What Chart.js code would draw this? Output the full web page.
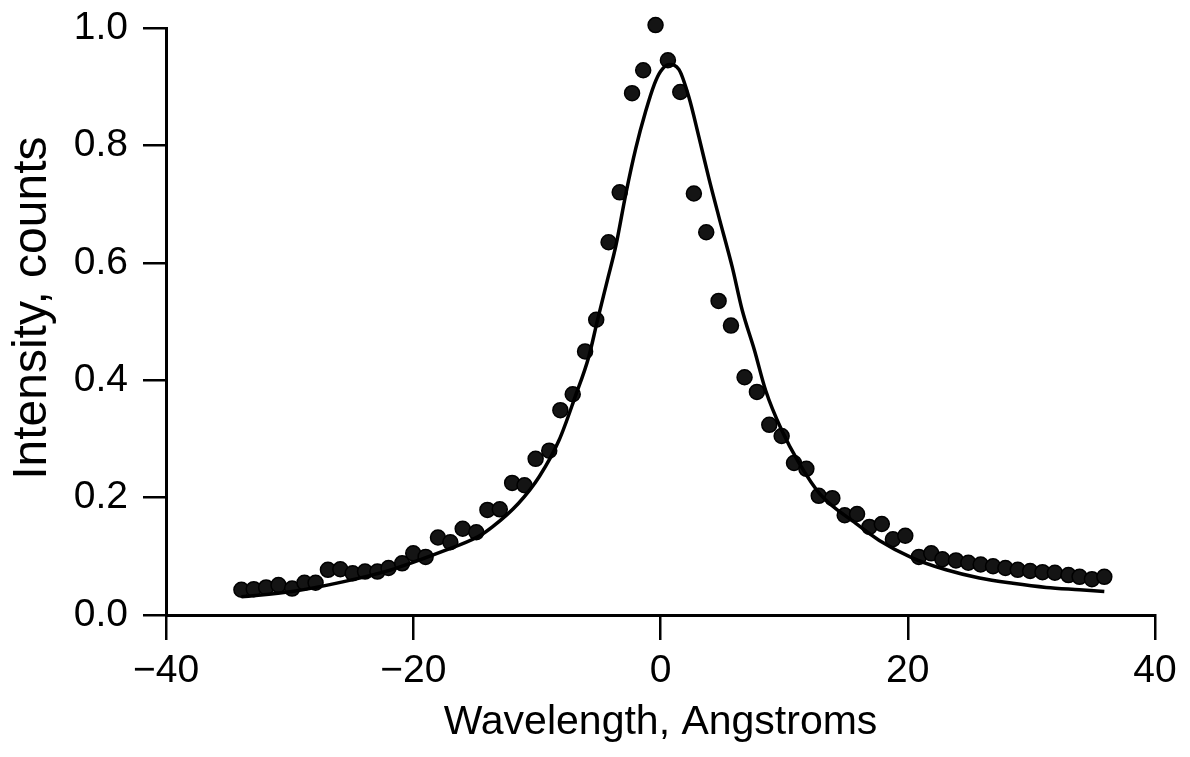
<!DOCTYPE html>
<html>
<head>
<meta charset="utf-8">
<title>Intensity vs Wavelength</title>
<script src="https://cdn.jsdelivr.net/npm/chart.js@4.4.1/dist/chart.umd.min.js"></script>
<style>
    html, body { margin: 0; padding: 0; background: #fff; }
    #wrap { width: 1190px; height: 757px; }
</style>
</head>
<body>
<div id="wrap"><canvas id="spectrum-chart" width="1190" height="757"></canvas></div>
<script>
// Measured points (wavelength in Angstroms, intensity in counts)
const wavelengths = [
    -33.9, -32.9, -31.9, -30.9, -29.8, -28.8, -27.9, -26.9, -25.9, -24.9, -23.9, -22.9,
    -22.0, -20.9, -20.0, -19.0, -18.0, -17.0, -16.0, -14.9, -14.0, -13.0, -12.0, -11.0,
    -10.1, -9.0, -8.1, -7.1, -6.1, -5.2, -4.2, -3.3, -2.3, -1.4, -0.4, 0.6, 1.6, 2.7,
    3.7, 4.7, 5.7, 6.8, 7.8, 8.8, 9.8, 10.8, 11.8, 12.8, 13.9, 14.9, 15.9, 16.9, 17.9,
    18.8, 19.8, 20.9, 21.9, 22.8, 23.9, 24.9, 25.9, 26.9, 27.9, 28.9, 29.9, 30.9, 31.9,
    33.0, 33.9, 34.9, 35.9
];
const intensities = [
    0.043, 0.044, 0.047, 0.051, 0.045, 0.055, 0.055, 0.077, 0.078, 0.071, 0.074, 0.074,
    0.080, 0.088, 0.105, 0.099, 0.132, 0.124, 0.147, 0.141, 0.179, 0.180, 0.225, 0.221,
    0.266, 0.280, 0.349, 0.376, 0.449, 0.503, 0.635, 0.720, 0.889, 0.928, 1.005, 0.945, 0.891, 0.718,
    0.652, 0.535, 0.493, 0.405, 0.380, 0.324, 0.305, 0.259, 0.249, 0.203, 0.199, 0.170, 0.172, 0.150, 0.155,
    0.129, 0.135, 0.099, 0.105, 0.095, 0.093, 0.089, 0.086, 0.083, 0.080, 0.077, 0.075, 0.073, 0.072,
    0.068, 0.065, 0.061, 0.065
];

// Fitted curve
const fitWavelengths = [
    -33.9, -29.8, -25.8, -21.8, -17.8, -14.7, -13.6, -11.5, -9.8, -8.2, -6.9, -5.8, -5.1, -4.3,
    -3.6, -2.8, -2.0, -1.2, -0.5, 0.0, 0.7, 1.5, 2.3, 3.1, 3.9, 4.7, 5.8, 6.6, 7.6, 8.5,
    9.8, 11.2, 12.9, 15.8, 17.7, 20.4, 23.1, 25.8, 28.5, 31.2, 33.9, 35.9
];
const fitIntensities = [
    0.031, 0.040, 0.056, 0.077, 0.107, 0.134, 0.150, 0.190, 0.236, 0.298, 0.372, 0.440, 0.502, 0.570,
    0.630, 0.718, 0.795, 0.858, 0.904, 0.926, 0.938, 0.929, 0.882, 0.815, 0.745, 0.680, 0.593, 0.520, 0.451, 0.383,
    0.315, 0.259, 0.206, 0.156, 0.127, 0.097, 0.077, 0.063, 0.054, 0.047, 0.043, 0.040
];

// Tick values
const xTicks = [-40, -20, 0, 20, 40];
const yTicks = [0.0, 0.2, 0.4, 0.6, 0.8, 1.0];

(function() {
    'use strict';

    const SpectrumChart = {

        chart: null,

        /**
         * Build {x, y} pairs from two arrays
         */
        pairs: function(xs, ys) {
            return xs.map(function(x, i) {
                return { x: x, y: ys[i] };
            });
        },

        /**
         * Shared axis styling
         */
        axisStyle: function(ticks, tickLength, padding, fontSize) {
            return {
                afterBuildTicks: function(scale) {
                    scale.ticks = ticks.map(function(v) { return { value: v }; });
                },
                grid: {
                    drawOnChartArea: false,
                    drawTicks: true,
                    tickLength: tickLength,
                    color: '#000',
                    lineWidth: 2.5
                },
                border: { display: true, color: '#000', width: 3 },
                ticks: {
                    color: '#000',
                    padding: padding,
                    font: { family: 'Liberation Sans, Arial, sans-serif', size: fontSize }
                }
            };
        },

        init: function() {
            const canvas = document.getElementById('spectrum-chart');
            if (!canvas || typeof Chart === 'undefined') {
                return;
            }

            const xAxis = this.axisStyle(xTicks, 25, 8, 39);
            xAxis.type = 'linear';
            xAxis.min = -40;
            xAxis.max = 40;
            xAxis.afterFit = function(scale) {
                scale.height = 142;
                scale.paddingLeft = 0;
                scale.paddingRight = 0;
            };
            xAxis.ticks.maxRotation = 0;
            xAxis.ticks.callback = function(value) {
                return value < 0 ? '\u2212' + Math.abs(value) : String(value);
            };
            xAxis.title = {
                display: true,
                text: 'Wavelength, Angstroms',
                color: '#000',
                padding: { top: 0, bottom: 10 },
                font: { family: 'Liberation Sans, Arial, sans-serif', size: 41 }
            };

            const yAxis = this.axisStyle(yTicks, 23, 15, 39);
            yAxis.min = 0;
            yAxis.max = 1;
            yAxis.afterFit = function(scale) {
                scale.width = 166;
                scale.paddingTop = 0;
                scale.paddingBottom = 0;
            };
            yAxis.ticks.callback = function(value) {
                return value.toFixed(1);
            };
            yAxis.title = {
                display: true,
                text: '  Intensity, counts',
                color: '#000',
                padding: { top: 4, bottom: 0 },
                font: { family: 'Liberation Sans, Arial, sans-serif', size: 48 }
            };

            this.chart = new Chart(canvas.getContext('2d'), {
                type: 'scatter',
                data: {
                    datasets: [
                        {
                            label: 'Fit',
                            data: this.pairs(fitWavelengths, fitIntensities),
                            showLine: true,
                            borderColor: '#000',
                            borderWidth: 3.5,
                            pointRadius: 0,
                            cubicInterpolationMode: 'monotone',
                            fill: false,
                            clip: false
                        },
                        {
                            label: 'Measured',
                            data: this.pairs(wavelengths, intensities),
                            showLine: false,
                            pointRadius: 7.5,
                            pointBackgroundColor: '#141414',
                            pointBorderColor: '#000',
                            pointBorderWidth: 1.5,
                            clip: false
                        }
                    ]
                },
                options: {
                    responsive: false,
                    animation: false,
                    layout: { padding: { top: 28, right: 35, left: 0, bottom: 0 } },
                    plugins: {
                        legend: { display: false },
                        tooltip: { enabled: false }
                    },
                    scales: {
                        x: xAxis,
                        y: yAxis
                    }
                }
            });
        }
    };

    SpectrumChart.init();
    window.SpectrumChart = SpectrumChart;

})();
</script>
</body>
</html>
